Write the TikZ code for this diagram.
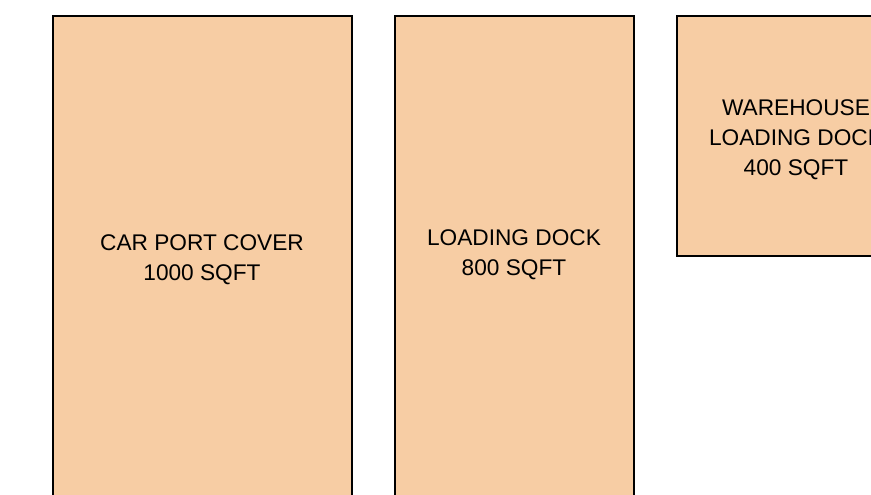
\documentclass[tikz,border=0pt]{standalone}
\usepackage{fontspec}
\setmainfont{Liberation Sans}
\definecolor{pad}{HTML}{F7CDA4}
\begin{document}
\begin{tikzpicture}[x=0.75pt,y=-0.75pt,
  area/.style={draw=black,fill=pad,line width=1.5pt,inner sep=0pt,anchor=north west},
  lbl/.style={align=center,font=\fontsize{17}{22.5}\selectfont,inner sep=0pt}]
\useasboundingbox (0,0) rectangle (871,495);
\clip (0,0) rectangle (871,495);
\node[area,minimum width=299*0.75pt,minimum height=500*0.75pt] (carport) at (52,15.5) {};
\node[area,minimum width=239*0.75pt,minimum height=500*0.75pt] (dock) at (394,15.5) {};
\node[area,minimum width=239*0.75pt,minimum height=240*0.75pt] (wh) at (676,15.5) {};
\node[lbl] (carportlbl) at (202,260) {CAR PORT COVER\\1000 SQFT};
\node[lbl] (docklbl) at (514,255) {LOADING DOCK\\800 SQFT};
\node[lbl] (whlbl) at (796,139.5) {WAREHOUSE\\LOADING DOCK\\400 SQFT};
\end{tikzpicture}
\end{document}
